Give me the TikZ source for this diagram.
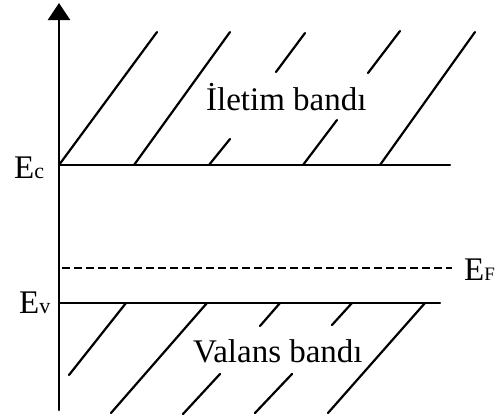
\documentclass[tikz,border=0pt]{standalone}
\usepackage{fontspec}
\setmainfont{Liberation Serif}
\usetikzlibrary{arrows.meta}

\newcommand{\pedice}[1]{{\fontsize{11}{12}\selectfont #1}}

\begin{document}
\begin{tikzpicture}[x=0.5pt, y=-0.5pt, line width=1.1pt, line cap=round, line join=round,
    etichetta/.style={anchor=base west, inner sep=0pt, font=\fontsize{16.5}{19}\selectfont}]

    \useasboundingbox (0,0) rectangle (500,419);

    % Asse dell'energia (verticale, con freccia piena in alto)
    \coordinate (origine) at (59,410);
    \coordinate (cima) at (59,3);
    \draw[-{Triangle[width=11pt, length=8.5pt]}] (origine) -- (cima);

    % Bordi delle bande e livello di Fermi
    \coordinate (Ec) at (59,165);
    \coordinate (EcFine) at (450,165);
    \coordinate (Ev) at (59,303);
    \coordinate (EvFine) at (440,303);
    \coordinate (EF) at (62,268);
    \coordinate (EFFine) at (452,268);
    \draw (Ec) -- (EcFine);
    \draw (Ev) -- (EvFine);
    \draw[line width=0.9pt, dash pattern=on 4pt off 2pt, line cap=butt] (EF) -- (EFFine);

    % Tratteggio della banda di conduzione (interrotto dal testo)
    \draw (59,165) -- (157,32);
    \draw (134,165) -- (230,32);
    \draw (209,165) -- (230,139)  (276,72) -- (305,33);
    \draw (303,165) -- (337,120)  (368,73) -- (400,31);
    \draw (380,165) -- (475,32);

    % Tratteggio della banda di valenza
    \draw (126,303) -- (69,375);
    \draw (207,303) -- (111,413);
    \draw (280,303) -- (260,326)  (220,374) -- (183,414);
    \draw (352,303) -- (332,325)  (292,374) -- (255,413);
    \draw (425,303) -- (328,413);

    % Etichette
    \node[etichetta] (lEc) at (13,178) {E\pedice{c}};
    \node[etichetta] (lEv) at (18,313) {E\pedice{v}};
    \node[etichetta] (lEF) at (463,280) {E{\fontsize{9.5}{11}\selectfont F}};
    \node[etichetta] (iletim) at (205,110) {İletim bandı};
    \node[etichetta] (valans) at (192,362) {Valans bandı};

\end{tikzpicture}
\end{document}
